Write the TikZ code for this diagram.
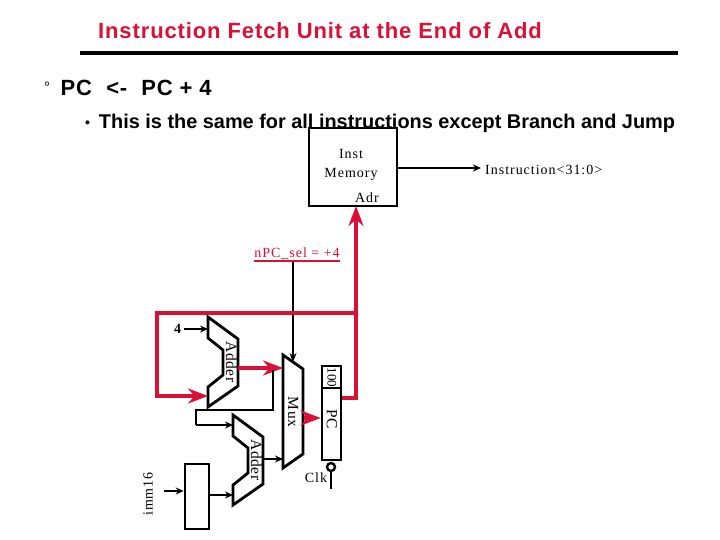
\documentclass[tikz,border=0pt]{standalone}
\usepackage{fontspec}
\setmainfont{Liberation Serif}
\newfontfamily\headfont{Liberation Sans}
\newfontfamily\titlefont{Liberation Sans}[LetterSpace=4]
\newfontfamily\eqfont{Liberation Sans}[LetterSpace=3.5]
\newfontfamily\lblfont{Liberation Serif}[LetterSpace=7]
\newfontfamily\partfont{Liberation Serif}[LetterSpace=4]
\usepackage{tikz}
\usetikzlibrary{arrows.meta,calc,positioning}
\definecolor{busred}{RGB}{218,16,52}
\tikzset{
  head/.style    = {font=\headfont\bfseries\fontsize{19.9}{24}\selectfont, anchor=west, inner sep=0pt},
  lbl/.style     = {font=\lblfont\fontsize{14}{19}\selectfont, inner sep=0pt},
  partlbl/.style = {font=\partfont\fontsize{15.5}{19}\selectfont, inner sep=0pt, rotate=-90},
  unit/.style    = {draw, line width=2.6pt, fill=white, inner sep=0pt},
  wire/.style    = {line width=2.4pt, -{Stealth[length=8pt,width=7pt]}},
  thinwire/.style= {line width=1.2pt, -{Stealth[length=9pt,width=7pt]}},
  bus/.style     = {line width=4pt, busred, -{Stealth[length=20pt,width=15pt]}},
  plainbus/.style= {line width=4pt, busred},
  block/.style   = {line width=2.8pt, line join=miter},
}

\begin{document}
\begin{tikzpicture}[x=1pt,y=-1pt]
  \useasboundingbox (0,0) rectangle (720,540);
  \fill[white] (0,0) rectangle (720,540);

  \node[head,font=\titlefont\bfseries\fontsize{22}{24}\selectfont,text=busred] (title) at (98,31) {Instruction Fetch Unit at the End of Add};
  \coordinate (ruleL) at (80,53);
  \coordinate (ruleR) at (678,53);
  \draw[line width=3.4pt] (ruleL) -- (ruleR);
  \node[head,font=\eqfont\bfseries\fontsize{22}{24}\selectfont] (eq) at (44,88) {\raisebox{3pt}{\fontseries{m}\fontsize{15}{15}\selectfont°}\, PC\,\, <-\,\, PC + 4};
  \node[head] (note) at (85,123)
    {\raisebox{1pt}{\fontsize{14}{14}\selectfont•}\, This is the same for all instructions except Branch and Jump};

  \node[unit,fill=none,minimum width=88pt,minimum height=78pt] (imem) at (353,167) {};
  \node[lbl,align=center] (imemtxt) at (351,165) {Inst\\Memory};
  \node[lbl] (adr) at (367,198) {Adr};
  \node[lbl,anchor=west] (instr) at (485,170) {Instruction<31:0>};
  \coordinate (imemout) at (imem.east |- 0,168);
  \coordinate (instrin) at (481,168);
  \draw[wire] (imemout) -- (instrin);

  % adders
  \foreach \name/\px/\py in {addfour/208/317,addimm/233/415}{
    \draw[block] (\px,\py) -- ++(30,22) -- ++(0,47) -- ++(-30,21) -- ++(0,-20) -- ++(15,-12)
      -- ++(0,-25) -- ++(-15,-12) -- cycle;
    \coordinate (\name a) at (\px,\py+12);
    \coordinate (\name b) at (\px,\py+79);
    \coordinate (\name o) at (\px+30,\py+44);
    \node[partlbl] (\name txt) at (\px+23.5,\py+45) {Adder};
  }

  \draw[block] (283,355) -- (303,369) -- (303,454) -- (283,468) -- cycle;
  \node[partlbl] (muxtxt) at (293,412) {Mux};
  \coordinate (muxa) at (283,368);
  \coordinate (muxb) at (283,459);
  \coordinate (muxs) at (293,362);
  \coordinate (muxo) at (304,418);

  \node[unit,minimum width=19pt,minimum height=94pt] (pc) at (331.5,413) {};
  \draw[line width=1.6pt] (pc.west |- 0,388) -- (pc.east |- 0,388);
  \node[partlbl,font=\rmfamily\fontsize{13}{15}\selectfont] (pcinit) at (332,377.5) {100};
  \node[partlbl] (pctxt) at (332,419) {PC};
  \coordinate (pcin) at (pc.west |- 0,418);
  \coordinate (pcout) at (pc.east |- 0,398);
  \node[circle,draw,line width=2.4pt,minimum size=8pt,inner sep=0pt] (clkdot) at (331,467) {};
  \coordinate (clkend) at (331,489);
  \draw[line width=2.4pt] (clkdot) -- (clkend);
  \node[lbl] (clk) at (316,478) {Clk};

  \node[unit,minimum width=24pt,minimum height=65pt] (signext) at (197,496.5) {};
  \node[lbl,rotate=90] (imm) at (148,494) {imm16};
  \coordinate (immin) at (164,491);
  \draw[wire] (immin) -- (signext.west |- immin);
  \coordinate (sxout) at (signext.east |- 0,495);
  \draw[wire] (sxout) -- (sxout -| addimmb);

  \node[lbl] (four) at (178,329) {\textbf{4}};
  \coordinate (fourout) at (184,329);
  \draw[wire] (fourout) -- (addfoura);

  \node[lbl,text=busred] (sel) at (297,254) {nPC\_sel = +4};
  \draw[line width=1.2pt,busred] (sel.south west) ++(0,1) -- ($(sel.south east)+(0,1)$);
  \coordinate (selout) at (293,262);
  \draw[thinwire] (selout) -- (muxs);

  % feedback path
  \coordinate (fbR) at (356,398);
  \coordinate (fbT) at (356,312.5);
  \coordinate (fbL) at (157,312.5);
  \coordinate (fbB) at (157,396);
  \coordinate (fbI) at (208,396);
  \draw[plainbus,line join=miter] (pcout) -- (fbR) -- (fbT) -- (fbL) -- (fbB) -- ($(fbB)+(27,0)$);
  \draw[bus] ($(fbB)+(20,0)$) -- (fbI);
  \coordinate (imemin) at (356,206);
  \draw[bus] (fbT) -- (imemin);
  \draw[bus] (addfouro |- muxa) -- (muxa);
  \draw[bus] (muxo) -- (pcin);

  % branch path
  \coordinate (brT) at (273,370);
  \coordinate (brR) at (273,410);
  \coordinate (brL) at (196,410);
  \coordinate (brB) at (196,425);
  \draw[line width=2.4pt,line join=miter] (brT) -- (brR) -- (brL) -- (brB);
  \draw[wire] (brB) -- (brB -| addimma);
  \draw[wire] (addimmo |- muxb) -- (muxb);
\end{tikzpicture}
\end{document}
